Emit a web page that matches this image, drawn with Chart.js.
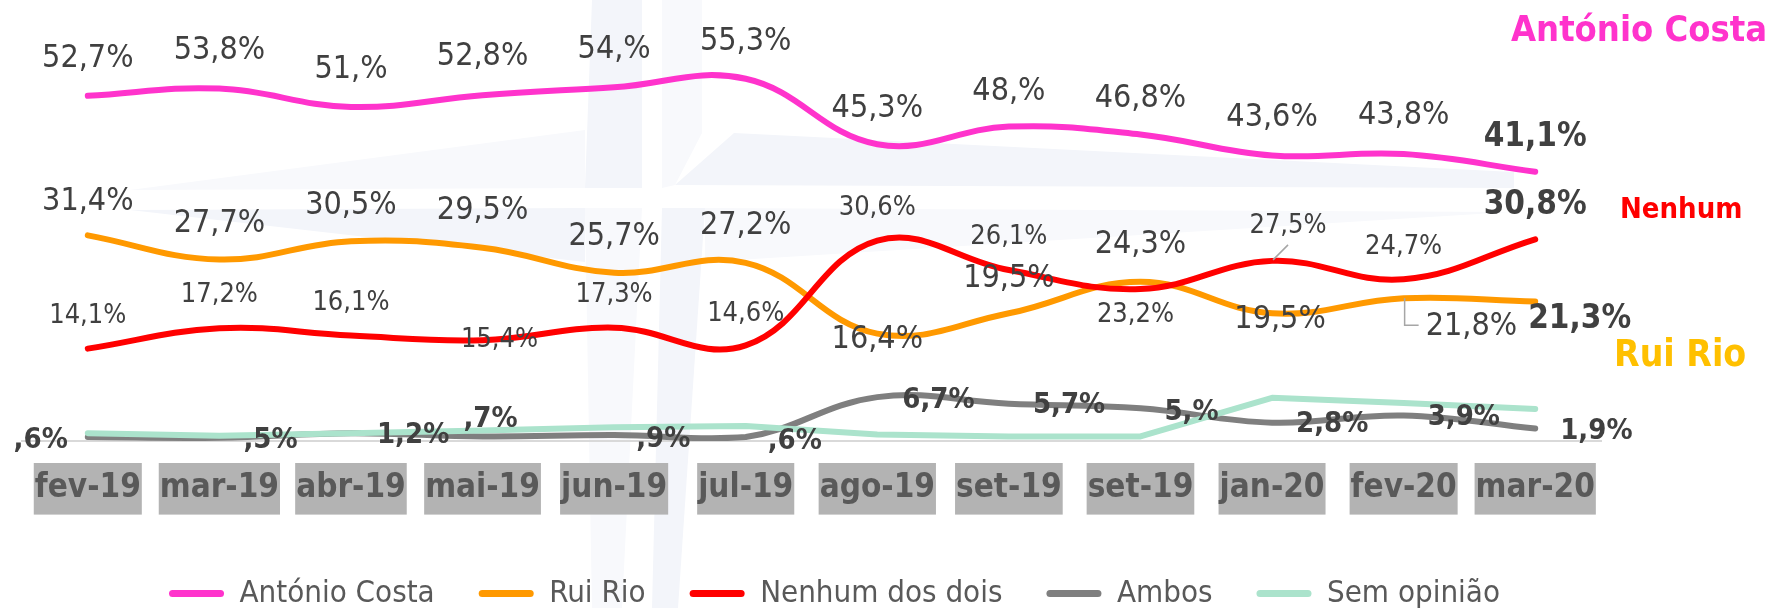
<!DOCTYPE html>
<html><head><meta charset="utf-8">
<script src="https://cdn.jsdelivr.net/npm/chart.js@4.4.1/dist/chart.umd.min.js"></script>
<style>html,body{margin:0;padding:0;background:#fff;}canvas{display:block;}</style>
</head><body>
<canvas id="c" width="1779" height="608"></canvas>
<script>
// ---- data ----
const categories = ['fev-19','mar-19','abr-19','mai-19','jun-19','jul-19','ago-19','set-19','set-19','jan-20','fev-20','mar-20'];
const antonioCosta = [52.7,53.8,51.0,52.8,54.0,55.3,45.3,48.0,46.8,43.6,43.8,41.1];
const ruiRio       = [31.4,27.7,30.5,29.5,25.7,27.2,16.4,19.5,24.3,19.5,21.8,21.3];
const nenhumDosDois= [14.1,17.2,16.1,15.4,17.3,14.6,30.6,26.1,23.2,27.5,24.7,30.8];
const ambos        = [0.6,0.5,1.2,0.7,0.9,0.6,6.7,5.7,5.0,2.8,3.9,1.9];
const semOpiniao   = [1.2,0.8,1.2,1.6,2.1,2.3,1.0,0.7,0.7,6.6,5.8,4.9];
const seriesNames  = ['António Costa','Rui Rio','Nenhum dos dois','Ambos','Sem opinião'];

// ---- label placement (offset of label from its point: dx, dy, align) ----
const costaPlace = [[0,-37],[0,-38],[0,-37],[0,-38],[0,-38],[0,-37],[0,-36],[0,-35],[0,-36],[0,-38],[0,-38],[0,-34]];
const rioPlace   = [[0,-34],[0,-36],[0,-36],[0,-37],[0,-36],[0,-37],[0,6],[0,-35],[0,-37],[8,6],[22,28,'left'],[-7,18,'left']];
const nenhumPlace= [[0,-33],[0,-33],[0,-33],[17,0],[0,-33],[0,-31],[0,-33],[0,-33],[-5,26],[16,-35],[0,-32],[0,-34]];
const ambosPlace = [[-20,3,'right'],[24,3,'left'],[26,2,'left'],[8,-17],[22,4,'left'],[22,4,'left'],[25,3,'left'],[24,2,'left'],[24,4,'left'],[24,2,'left'],[24,2,'left'],[25,3,'left']];
// leader lines: [datasetIndex, pointIndex, path relative to point]
const leaderLines = [[2,9,[[1,-1],[16,-16]]],[1,10,[[1,0],[1,27],[15,27]]]];

const FAMILY = "'DejaVu Sans Condensed','DejaVu Sans',sans-serif";
const LABEL_COLOR = '#404040';

function fmtPct(v){
  const t = Math.round(v*10), i = Math.floor(t/10), d = t%10;
  return (i ? String(i) : '') + ',' + (d ? String(d) : '') + '%';
}

const watermark = {
  id:'watermark',
  beforeDraw(chart){
    const ctx = chart.ctx;
    const poly = (pts, col) => { ctx.beginPath(); ctx.moveTo(pts[0][0],pts[0][1]); for (let k=1;k<pts.length;k++) ctx.lineTo(pts[k][0],pts[k][1]); ctx.closePath(); ctx.fillStyle=col; ctx.fill(); };
    ctx.save();
    const dark = '#F3F5FA', light = '#F8F9FC';
    // vertical arm
    poly([[592,0],[642,0],[642,188],[585,188]], dark);
    poly([[662,0],[702,0],[702,133],[675,185],[662,188]], light);
    poly([[585,208],[642,208],[622,608],[592,608]], light);
    poly([[662,208],[705,208],[678,608],[652,608]], dark);
    // horizontal arm
    poly([[130,190],[585,130],[585,188]], light);
    poly([[675,185],[734,133],[1514,172],[1514,188]], dark);
    poly([[130,210],[585,208],[585,262]], dark);
    poly([[705,208],[1510,212],[705,262]], light);
    ctx.restore();
  }
};

const pointLabels = {
  id:'pointLabels',
  afterDatasetsDraw(chart){
    const ctx = chart.ctx;
    ctx.save();
    ctx.strokeStyle = '#A6A6A6'; ctx.lineWidth = 1.5;
    leaderLines.forEach(([di, pi, path]) => {
      const pt = chart.getDatasetMeta(di).data[pi];
      ctx.beginPath();
      path.forEach(([dx,dy],k) => { if (k===0) ctx.moveTo(pt.x+dx, pt.y+dy); else ctx.lineTo(pt.x+dx, pt.y+dy); });
      ctx.stroke();
    });
    ctx.textBaseline = 'middle';
    chart.data.datasets.forEach((ds, di) => {
      if (!ds.pl) return;
      const meta = chart.getDatasetMeta(di);
      const last = ds.data.length - 1;
      meta.data.forEach((pt, j) => {
        const [dx, dy, al] = ds.pl.place[j];
        const f = (j === last && ds.pl.lastFont) ? ds.pl.lastFont : ds.pl.font;
        ctx.font = f.weight + ' ' + f.size + 'px ' + FAMILY;
        ctx.fillStyle = LABEL_COLOR;
        ctx.textAlign = al || 'center';
        ctx.fillText(fmtPct(ds.data[j]), pt.x + dx, pt.y + dy);
      });
    });
    ctx.restore();
  }
};

const sideTitles = {
  id:'sideTitles',
  afterDraw(chart){
    const ctx = chart.ctx;
    ctx.save();
    ctx.textAlign = 'left'; ctx.textBaseline = 'middle';
    ctx.font = 'bold 36px ' + FAMILY; ctx.fillStyle = '#FF33CC';
    ctx.fillText(seriesNames[0], 1511, 32);
    ctx.font = 'bold 29px ' + FAMILY; ctx.fillStyle = '#FF0000';
    ctx.fillText('Nenhum', 1620, 210);
    ctx.font = 'bold 37px ' + FAMILY; ctx.fillStyle = '#FFC000';
    ctx.fillText(seriesNames[1], 1614, 356);
    ctx.restore();
  }
};

// nudges the library legend horizontally to sit where the reference legend sits
const legendShift = {
  id:'legendShift',
  afterLayout(chart){ if (chart.legend){ chart.legend.left += 23; chart.legend.right += 23; } }
};

const lineBase = { borderWidth:6, pointRadius:0, pointHoverRadius:0, fill:false, tension:0.4, borderCapStyle:'round', borderJoinStyle:'round' };
const regular = {weight:'normal', size:32};
const bigBold = {weight:'bold', size:33};

new Chart(document.getElementById('c'), {
  type:'line',
  data:{
    labels: categories,
    datasets:[
      Object.assign({}, lineBase, {label:seriesNames[0], data:antonioCosta, borderColor:'#FF33CC', backgroundColor:'#FF33CC', order:5,
        pl:{place:costaPlace, font:regular, lastFont:bigBold}}),
      Object.assign({}, lineBase, {label:seriesNames[1], data:ruiRio, borderColor:'#FF9900', backgroundColor:'#FF9900', order:4,
        pl:{place:rioPlace, font:regular, lastFont:bigBold}}),
      Object.assign({}, lineBase, {label:seriesNames[2], data:nenhumDosDois, borderColor:'#FF0000', backgroundColor:'#FF0000', order:3,
        pl:{place:nenhumPlace, font:{weight:'normal', size:27}, lastFont:bigBold}}),
      Object.assign({}, lineBase, {label:seriesNames[3], data:ambos, borderColor:'#7F7F7F', backgroundColor:'#7F7F7F', order:2,
        pl:{place:ambosPlace, font:{weight:'bold', size:29}}}),
      Object.assign({}, lineBase, {label:seriesNames[4], data:semOpiniao, borderColor:'#ABE3CC', backgroundColor:'#ABE3CC', order:1, tension:0})
    ]
  },
  options:{
    responsive:false, animation:false, devicePixelRatio:1,
    layout:{ padding:{ top:48, left:22, right:178, bottom:-11 } },
    scales:{
      x:{
        type:'category', offset:true,
        grid:{ display:false, drawTicks:false },
        border:{ display:true, color:'#D9D9D9', width:2 },
        ticks:{ autoSkip:false, maxRotation:0, padding:28, color:'#595959',
          font:{ family:FAMILY, weight:'bold', size:33 },
          showLabelBackdrop:true, backdropColor:'#B3B3B3', backdropPadding:{top:6,bottom:6,left:1,right:1} },
        afterFit(s){ s.height = 93; }
      },
      y:{ display:false, min:0, max:60 }
    },
    plugins:{
      tooltip:{ enabled:false },
      legend:{
        position:'bottom',
        labels:{
          boxWidth:55, boxHeight:7, padding:44, color:'#595959',
          font:{ family:FAMILY, size:31 },
          sort:(a,b)=>a.datasetIndex-b.datasetIndex,
          generateLabels(chart){
            const items = Chart.defaults.plugins.legend.labels.generateLabels(chart);
            items.forEach(it => { it.lineWidth = 0; it.fillStyle = it.strokeStyle; it.borderRadius = 3.5; });
            return items;
          }
        }
      }
    }
  },
  plugins:[watermark, pointLabels, sideTitles, legendShift]
});
</script>
</body></html>
